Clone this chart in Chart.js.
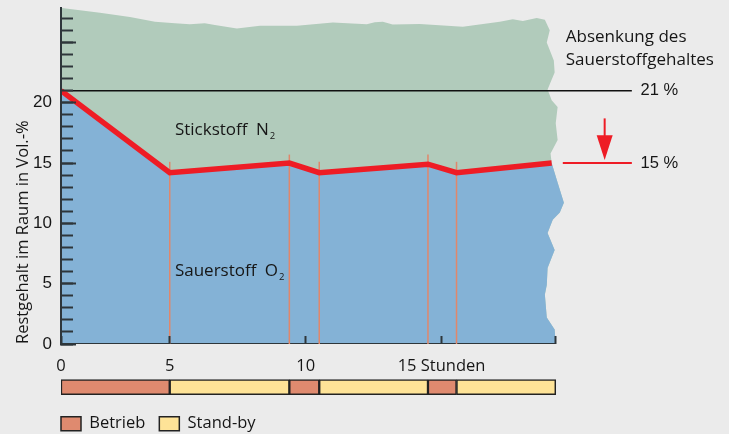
<!DOCTYPE html>
<html>
<head>
<meta charset="utf-8">
<script src="https://cdn.jsdelivr.net/npm/chart.js@4.4.0/dist/chart.umd.min.js"></script>
<style>
    html, body { margin: 0; padding: 0; background: #ebebeb; width: 729px; height: 434px; overflow: hidden; }
    #main { position: absolute; left: 0; top: 0; width: 729px; height: 375px; }
    #modes { position: absolute; left: 0; top: 342px; width: 729px; height: 100px; }
</style>
</head>
<body>
<div id="main"><canvas id="mainChart"></canvas></div>
<div id="modes"><canvas id="modeChart"></canvas></div>
<script>
// oxygen level in the room (red line)
const oxygenHours = [0, 5, 9.4, 10.5, 14.5, 15.55, 19.05];
const oxygenLevel = [21, 14.2, 15, 14.2, 14.9, 14.2, 15];

// operating modes (bar below the chart)
const modeNames = ['Betrieb', 'Stand-by', 'Betrieb', 'Stand-by', 'Betrieb', 'Stand-by'];
const modeStarts = [0, 5, 9.4, 10.5, 14.5, 15.55];
const modeEnds = [5, 9.4, 10.5, 14.5, 15.55, 19.2];
const switchTops = [15.1, 15.7, 15.1, 15.7, 15.1]; // top of the thin marker at each mode switch

// torn paper outline of the gas area
const topEdgeHours = [0, 1.79, 3.17, 4.32, 5.19, 5.74, 6.29, 6.66, 7.47, 8.32, 9.68, 11.0, 12.25, 12.54, 12.84, 13.2, 14.2, 15.78, 17.14, 17.62, 17.99, 18.5, 18.8];
const topEdgeLevel = [27.86, 27.45, 27.1, 26.7, 26.58, 26.5, 26.58, 26.45, 26.16, 26.37, 26.37, 26.64, 26.5, 26.66, 26.7, 26.49, 26.53, 26.3, 26.7, 26.92, 26.78, 27.03, 26.87];
const rightEdgeHours = [18.98, 18.87, 19.13, 19.16, 18.9, 19.05, 19.27, 19.2, 19.27, 19.01, 19.05, 19.24, 19.5, 19.35, 19.09, 18.9, 19.16, 18.9, 18.87, 18.8, 18.87, 19.16, 19.2];
const rightEdgeLevel = [26.0, 25.0, 23.5, 22.5, 21.1, 20.2, 19.65, 18.3, 16.9, 15.8, 15.0, 13.6, 11.7, 10.9, 10.3, 9.2, 7.8, 6.3, 4.9, 4.1, 2.2, 1.2, 0];

const startLevel = 21;
const targetLevel = 15;

const xTickValues = [0, 5, 10, 15, 19.2];
const xTickLabels = ['0', '5', '10', '15 Stunden', ''];

const textColor = '#161616';
const axisColor = '#2e363b';
const red = '#ee1c25';
const blue = '#84b2d6';
const green = '#b1cbbb';
const markerColor = '#e0876b';
const modeColors = { 'Betrieb': '#df8a6f', 'Stand-by': '#fee397' };

// first five hours are drawn compressed on the time axis
const breakAt = 5;
const firstSpan = 0.8;

class BrokenScale extends Chart.LinearScale {
    warp(v) {
        return v <= breakAt ? v * firstSpan : v - breakAt * (1 - firstSpan);
    }

    unwarp(u) {
        return u <= breakAt * firstSpan ? u / firstSpan : u + breakAt * (1 - firstSpan);
    }

    getPixelForValue(value) {
        if (value === null || value === undefined || isNaN(value)) {
            return NaN;
        }
        const a = this.warp(this.min);
        const b = this.warp(this.max);
        return this.getPixelForDecimal((this.warp(value) - a) / (b - a));
    }

    getValueForPixel(pixel) {
        const a = this.warp(this.min);
        const b = this.warp(this.max);
        return this.unwarp(a + this.getDecimalForPixel(pixel) * (b - a));
    }
}
BrokenScale.id = 'broken';
BrokenScale.defaults = Chart.LinearScale.defaults;
Chart.register(BrokenScale);

Chart.defaults.font.family = "'Open Sans', sans-serif";
Chart.defaults.color = textColor;

const zip = (xs, ys) => xs.map((x, i) => ({ x: x, y: ys[i] }));

// text annotations, placed in data units
const gasLabels = [
    { text: 'Stickstoff N', sub: '2', x: 5.19, y: 17.7 },
    { text: 'Sauerstoff O', sub: '2', x: 5.19, y: 6.0 }
];
const sideNotes = [
    { text: 'Absenkung des', x: 19.57, y: 25.45, font: "17px 'Open Sans'" },
    { text: 'Sauerstoffgehaltes', x: 19.57, y: 23.55, font: "17px 'Open Sans'" },
    { text: '21 %', x: 22.32, y: startLevel, font: "16.5px 'Liberation Sans'" },
    { text: '15 %', x: 22.32, y: targetLevel, font: "16.5px 'Liberation Sans'" }
];
const levelLineEnd = 22;
const targetLineStart = 19.46;
const arrow = { x: 21, from: 18.7, headTop: 17.3, tip: 15.25, halfWidth: 8 };

const notesPlugin = {
    id: 'notes',
    afterDraw(chart) {
        const { ctx } = chart;
        const x = chart.scales.x;
        const y = chart.scales.y;
        ctx.save();
        ctx.fillStyle = textColor;
        ctx.textAlign = 'left';
        ctx.textBaseline = 'middle';

        gasLabels.forEach(g => {
            const px = x.getPixelForValue(g.x);
            const py = y.getPixelForValue(g.y);
            ctx.font = "17px 'Open Sans'";
            ctx.wordSpacing = '4px';
            ctx.fillText(g.text, px, py);
            const w = ctx.measureText(g.text).width;
            ctx.wordSpacing = '0px';
            ctx.font = "9.5px 'Open Sans'";
            ctx.fillText(g.sub, px + w + 1, py + 6);
        });

        sideNotes.forEach(n => {
            ctx.font = n.font;
            ctx.fillText(n.text, x.getPixelForValue(n.x), y.getPixelForValue(n.y));
        });

        // arrow pointing from 21 % down to 15 %
        const ax = x.getPixelForValue(arrow.x);
        ctx.strokeStyle = red;
        ctx.lineWidth = 2;
        ctx.beginPath();
        ctx.moveTo(ax, y.getPixelForValue(arrow.from));
        ctx.lineTo(ax, y.getPixelForValue(arrow.headTop) + 1);
        ctx.stroke();
        ctx.fillStyle = red;
        ctx.beginPath();
        ctx.moveTo(ax - arrow.halfWidth, y.getPixelForValue(arrow.headTop));
        ctx.lineTo(ax + arrow.halfWidth, y.getPixelForValue(arrow.headTop));
        ctx.lineTo(ax, y.getPixelForValue(arrow.tip));
        ctx.closePath();
        ctx.fill();
        ctx.restore();
    }
};

const markerDatasets = modeStarts.slice(1).map((h, i) => ({
    label: 'switch ' + h,
    data: [{ x: h, y: 0 }, { x: h, y: switchTops[i] }],
    borderColor: markerColor,
    borderWidth: 1.5,
    fill: false
}));

const oxygenArea = [{ x: 0, y: 0 }].concat(
    zip(oxygenHours, oxygenLevel),
    zip(rightEdgeHours, rightEdgeLevel).filter(p => p.y < oxygenLevel[oxygenLevel.length - 1])
);
const gasArea = [{ x: 0, y: 0 }].concat(
    zip(topEdgeHours, topEdgeLevel),
    zip(rightEdgeHours, rightEdgeLevel)
);

new Chart(document.getElementById('mainChart'), {
    type: 'line',
    data: {
        datasets: [
            { label: 'Sauerstoff', data: zip(oxygenHours, oxygenLevel), borderColor: red, borderWidth: 5.5, fill: false, borderJoinStyle: 'miter' },
            { label: '21 %', data: [{ x: 0, y: startLevel }, { x: levelLineEnd, y: startLevel }], borderColor: '#111', borderWidth: 1.5, fill: false },
            { label: '15 %', data: [{ x: targetLineStart, y: targetLevel }, { x: levelLineEnd, y: targetLevel }], borderColor: red, borderWidth: 2, fill: false },
            ...markerDatasets,
            { label: 'axis', data: [{ x: 0, y: 0 }, { x: xTickValues[xTickValues.length - 1], y: 0 }], borderColor: axisColor, borderWidth: 2, fill: false },
            { label: 'O2', data: oxygenArea, borderWidth: 0, backgroundColor: blue, fill: 'shape' },
            { label: 'N2', data: gasArea, borderWidth: 0, backgroundColor: green, fill: 'shape' }
        ]
    },
    options: {
        animation: false,
        responsive: true,
        maintainAspectRatio: false,
        layout: { padding: { top: 8, right: 89, bottom: 0, left: 0 } },
        elements: { point: { radius: 0 }, line: { tension: 0, borderCapStyle: 'butt' } },
        plugins: { legend: { display: false }, tooltip: { enabled: false } },
        scales: {
            x: {
                type: 'broken',
                min: 0,
                max: 22.3,
                border: { display: false },
                grid: { z: 1, drawOnChartArea: false, tickLength: -8, tickColor: axisColor, tickWidth: 2 },
                ticks: {
                    padding: 20,
                    maxRotation: 0,
                    autoSkip: false,
                    color: textColor,
                    font: { size: 16.5 },
                    callback: (v, i) => xTickLabels[i]
                },
                afterBuildTicks: s => { s.ticks = xTickValues.map(v => ({ value: v })); },
                afterFit: s => { s.height = 31; s.paddingLeft = 0; s.paddingRight = 0; }
            },
            y: {
                min: 0,
                max: 27.85,
                weight: 1,
                border: { z: 1, color: axisColor, width: 2 },
                grid: { z: 1, drawOnChartArea: false, tickLength: -15, tickColor: axisColor, tickWidth: 2 },
                ticks: {
                    stepSize: 5,
                    includeBounds: false,
                    padding: 24,
                    color: textColor,
                    font: { family: "'Liberation Sans'", size: 17 },
                    callback: v => (v <= 20 ? v : '')
                },
                title: {
                    display: true,
                    text: 'Restgehalt im Raum in Vol.-%',
                    align: 'start',
                    color: textColor,
                    padding: { top: 13, bottom: 0 },
                    font: { size: 16.5 }
                },
                afterFit: s => { s.width = 61; s.paddingTop = 0; s.paddingBottom = 0; }
            },
            y2: {
                position: 'left',
                min: 0,
                max: 27.85,
                weight: 0,
                border: { display: false },
                grid: { z: 1, drawOnChartArea: false, tickLength: -12, tickColor: axisColor, tickWidth: 2 },
                ticks: { stepSize: 1, includeBounds: false, display: false },
                afterFit: s => { s.width = 0; s.paddingTop = 0; s.paddingBottom = 0; }
            }
        }
    },
    plugins: [notesPlugin]
});

// mode bar: one row at y = 0 on a linear axis
new Chart(document.getElementById('modeChart'), {
    type: 'bar',
    data: {
        datasets: modeStarts.map((s, i) => ({
            label: modeNames[i],
            data: [{ x: [s, modeEnds[i]], y: 0 }],
            backgroundColor: modeColors[modeNames[i]],
            borderColor: '#222',
            borderWidth: 1.5,
            borderSkipped: false,
            grouped: false,
            barThickness: 15
        }))
    },
    options: {
        indexAxis: 'y',
        animation: false,
        responsive: true,
        maintainAspectRatio: false,
        layout: { padding: { top: 0, right: 89, bottom: 0, left: 47 } },
        scales: {
            x: { type: 'broken', min: 0, max: 22.3, display: false },
            y: {
                type: 'linear',
                min: -1,
                max: 5.45,
                grid: { display: false },
                border: { display: false },
                ticks: { display: false },
                afterFit: s => { s.width = 14; s.paddingTop = 0; s.paddingBottom = 0; }
            }
        },
        plugins: {
            tooltip: { enabled: false },
            legend: {
                position: 'bottom',
                align: 'start',
                labels: {
                    boxWidth: 20,
                    boxHeight: 14,
                    padding: 14,
                    color: textColor,
                    font: { size: 16.5 },
                    filter: (item, data) => data.datasets.findIndex(d => d.label === item.text) === item.datasetIndex
                }
            }
        }
    }
});
</script>
</body>
</html>
